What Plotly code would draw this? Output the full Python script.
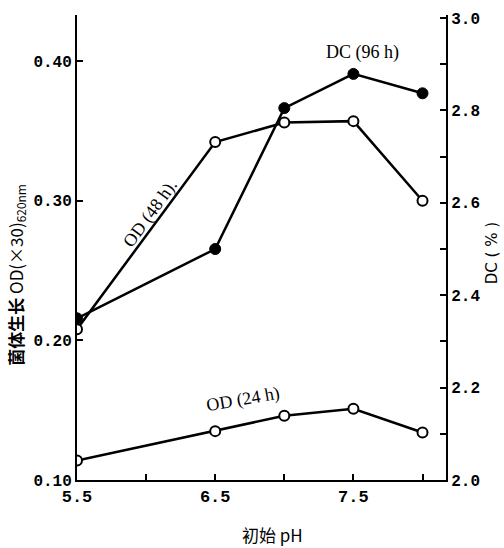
import plotly.graph_objects as go

ph = [5.5, 6.5, 7.0, 7.5, 8.0]
od_24h = [0.114, 0.135, 0.146, 0.151, 0.134]
od_48h = [0.208, 0.342, 0.356, 0.357, 0.300]
dc_96h = [2.35, 2.50, 2.805, 2.879, 2.837]

x_ticks = [5.5, 6.5, 7.5]
x_ticktext = ["5.5", "6.5", "7.5"]
x_minor_ticks = [6.0, 7.0, 8.0]
left_ticks = [0.10, 0.20, 0.30, 0.40]
left_ticktext = ["0.10", "0.20", "0.30", "0.40"]
right_ticks = [2.0, 2.2, 2.4, 2.6, 2.8, 3.0]
right_ticktext = ["2.0", "2.2", "2.4", "2.6", "2.8", "3.0"]

fig = go.Figure()

open_marker = dict(symbol="circle", size=10, color="white", line=dict(color="black", width=2))
filled_marker = dict(symbol="circle", size=11, color="black", line=dict(color="black", width=1))

fig.add_trace(go.Scatter(x=ph, y=od_24h, mode="lines+markers", line=dict(color="black", width=2.5),
                         marker=open_marker, showlegend=False))
fig.add_trace(go.Scatter(x=ph, y=od_48h, mode="lines+markers", line=dict(color="black", width=2.5),
                         marker=open_marker, showlegend=False))
fig.add_trace(go.Scatter(x=ph, y=dc_96h, mode="lines+markers", line=dict(color="black", width=2.5),
                         marker=filled_marker, yaxis="y2", showlegend=False))

tickfont = dict(family="Liberation Mono", size=16, color="black", weight="bold")

fig.update_layout(
    width=504, height=548,
    margin=dict(l=77, r=58, t=15, b=68),
    paper_bgcolor="white", plot_bgcolor="white",
    xaxis=dict(range=[5.5, 8.17], tickvals=x_ticks, ticktext=x_ticktext,
               showgrid=False, zeroline=False, showline=True, linecolor="black", linewidth=2,
               ticks="inside", ticklen=6, tickwidth=2, tickcolor="black",
               tickfont=dict(family="Liberation Mono", size=17, color="black", weight="bold"),
               minor=dict(tickvals=x_minor_ticks, ticks="inside", ticklen=6, tickwidth=2,
                          tickcolor="black", showgrid=False)),
    yaxis=dict(range=[0.10, 0.433], tickvals=left_ticks, ticktext=left_ticktext,
               showgrid=False, zeroline=False, showline=True, linecolor="black", linewidth=2,
               ticks="inside", ticklen=6, tickwidth=2, tickcolor="black", tickfont=tickfont),
    yaxis2=dict(range=[2.0, 3.0065], tickvals=right_ticks, ticktext=right_ticktext,
                overlaying="y", side="right",
                showgrid=False, zeroline=False, showline=True, linecolor="black", linewidth=2,
                ticks="inside", ticklen=6, tickwidth=2, tickcolor="black", tickfont=tickfont,
                minor=dict(dtick=0.1, ticks="inside", ticklen=6, tickwidth=2, tickcolor="black",
                           showgrid=False)),
)

serif = dict(family="Liberation Serif", size=18, color="black")

fig.add_annotation(x=7.565, y=0.4064, xref="x", yref="y", text="DC (96 h)",
                   showarrow=False, font=serif)
fig.add_annotation(x=6.03, y=0.291, xref="x", yref="y", text="OD (48 h).",
                   showarrow=False, font=serif, textangle=-54)
fig.add_annotation(x=6.70, y=0.158, xref="x", yref="y", text="OD (24 h)",
                   showarrow=False, font=serif, textangle=-10)

fig.add_annotation(x=-0.163, y=0.441, xref="paper", yref="paper",
                   xanchor="center", yanchor="middle",
                   text="<b>菌体生长</b> OD(×30)<sub>620nm</sub>",
                   showarrow=False, textangle=-90,
                   font=dict(family="Noto Sans CJK SC", size=17, color="black"))
fig.add_annotation(x=1.125, y=0.488, xref="paper", yref="paper",
                   xanchor="center", yanchor="middle",
                   text="DC ( % )", showarrow=False, textangle=-90,
                   font=dict(family="DejaVu Sans", size=15, color="black"))
fig.add_annotation(x=0.531, y=-0.118, xref="paper", yref="paper",
                   xanchor="center", yanchor="middle",
                   text="初始 pH", showarrow=False,
                   font=dict(family="Noto Sans CJK SC", size=17, color="black"))

fig.write_html("out.html")
